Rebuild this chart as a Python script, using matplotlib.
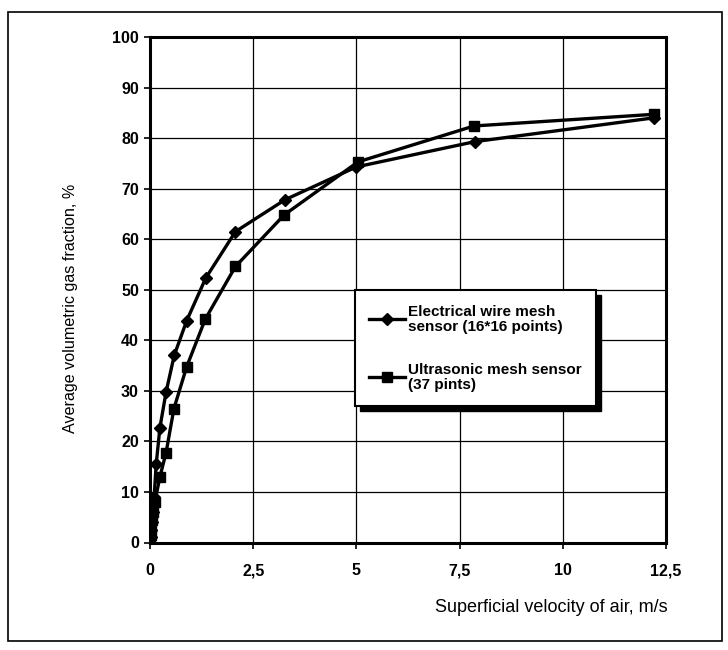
import matplotlib
matplotlib.use('Agg')
import matplotlib.pyplot as plt
from matplotlib.patches import Rectangle

plt.rcParams['font.family'] = ['Liberation Sans', 'DejaVu Sans']

# superficial velocity of air, m/s  /  gas fraction, %
v_wire = [0.02, 0.03, 0.05, 0.07, 0.1, 0.15, 0.24, 0.39, 0.59, 0.89, 1.35, 2.07, 3.27, 5.0, 7.87, 12.2]
f_wire = [1, 2.5, 4, 6, 9, 15.5, 22.7, 29.8, 37.1, 43.9, 52.3, 61.5, 67.8, 74.3, 79.3, 84.0]

v_us = [0.01, 0.02, 0.03, 0.05, 0.08, 0.12, 0.24, 0.39, 0.58, 0.89, 1.34, 2.07, 3.25, 5.04, 7.85, 12.2]
f_us = [0.5, 1.5, 3, 4.5, 6, 8.1, 13.0, 17.8, 26.5, 34.8, 44.2, 54.6, 64.8, 75.3, 82.4, 84.7]

xticks = [0, 2.5, 5, 7.5, 10, 12.5]
xlabels = ['0', '2,5', '5', '7,5', '10', '12,5']
yticks = list(range(0, 101, 10))

fig = plt.figure(figsize=(7.28, 6.5), dpi=100)
ax = fig.add_axes([150/728, 1-542.5/650, 516/728, 505.5/650])

ax.plot(v_wire, f_wire, color='k', lw=2.4, marker='D', ms=6,
        label='Electrical wire mesh\nsensor (16*16 points)', zorder=3)
ax.plot(v_us, f_us, color='k', lw=2.4, marker='s', ms=7.5,
        label='Ultrasonic mesh sensor\n(37 pints)', zorder=3)

ax.set_xlim(0, 12.5)
ax.set_ylim(0, 100)
ax.set_xticks(xticks)
ax.set_xticklabels(xlabels)
ax.set_yticks(yticks)
ax.grid(True, color='k', lw=0.9)
ax.tick_params(direction='out', length=4, width=1.2, labelsize=11.5)
ax.tick_params(axis='x', pad=11)
ax.tick_params(axis='y', pad=4)
for t in ax.get_xticklabels() + ax.get_yticklabels():
    t.set_fontweight('bold')
for s in ax.spines.values():
    s.set_linewidth(2.2)

ax.set_xlabel('Superficial velocity of air, m/s', fontsize=13)
ax.xaxis.set_label_coords(1.003, -0.111)
ax.xaxis.label.set_ha('right')
ax.set_ylabel('Average volumetric gas fraction, %', fontsize=11.6)
ax.yaxis.set_label_coords(-0.139, 0.464)

leg = ax.legend(loc='upper left', bbox_to_anchor=(0.397, 0.4995), borderaxespad=0,
                fancybox=False, edgecolor='k', framealpha=1, handlelength=2.3,
                handletextpad=0.25, borderpad=0.95, labelspacing=1.9,
                prop={'weight': 'bold', 'size': 11})
for t in leg.get_texts():
    t.set_linespacing(1.1)
leg.get_frame().set_linewidth(1.5)

fig.canvas.draw()
bb = leg.get_window_extent()
shadow = Rectangle((bb.x0 + 5, bb.y0 - 5), bb.width, bb.height,
                   transform=None, facecolor='k', edgecolor='k')
fig.patches.append(shadow)
shadow.set_figure(fig)
# legend goes to figure level so it sits above the shadow
leg.remove()
fig.legends.append(leg)
leg.set_figure(fig)

# outer frame
fig.patches.append(Rectangle((8/728, 1-641/650), 714/728, 629/650, transform=fig.transFigure,
                             fill=False, edgecolor='k', lw=1.2))

fig.savefig('out.png', dpi=100)
